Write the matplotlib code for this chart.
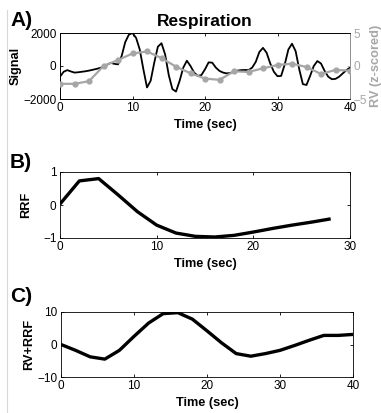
import numpy as np
import matplotlib
matplotlib.use("Agg")
import matplotlib.pyplot as plt
from matplotlib.lines import Line2D

plt.rcParams['font.family'] = ['Liberation Sans', 'DejaVu Sans']

# Panel A: raw respiration signal (0.5 s samples)
sig_t = np.arange(0, 40.5, 0.5)
sig_v = [-650, -350, -250, -330, -400, -380, -350, -320, -280, -230,
         -180, -120, -50, 80, 190, 130, 100, 600, 1450, 1900,
         2000, 1700, 1000, -200, -1300, -900, 200, 1170, 1380, 700,
         -550, -1400, -1550, -900, -100, 320, 0, -400, -600, -550,
         -200, 220, 200, -100, -300, -400, -450, -420, -350, -280,
         -250, -240, -250, -100, 250, 850, 1100, 800, 150, -350,
         -620, -600, 100, 1000, 1350, 900, -200, -1100, -1150, -600,
         0, 300, 150, -300, -650, -800, -780, -650, -450, -250,
         -100]

# Respiration volume (z-scored), every 2 s
rv_t = np.arange(0, 41, 2)
rv_v = [-2.7, -2.7, -2.3, 0.0, 0.9, 1.9, 2.2, 1.2, -0.1, -1.1,
        -1.9, -2.1, -0.8, -0.9, -0.35, 0.15, 0.35, -0.15, -1.2, -0.6,
        -0.7]

# Panel B: respiration response function
rrf_t = np.arange(0, 29, 2)
rrf_v = [0.03, 0.73, 0.8, 0.31, -0.2, -0.61, -0.85, -0.95, -0.97, -0.92,
         -0.82, -0.71, -0.61, -0.52, -0.42]

# Panel C: RV convolved with RRF
conv_t = np.arange(0, 41, 2)
conv_v = [0.0, -1.8, -3.8, -4.5, -1.8, 2.5, 6.6, 9.5, 9.8, 7.8,
          4.2, 0.5, -2.8, -3.6, -2.8, -1.8, -0.3, 1.3, 2.8, 2.8,
          3.1]

W, H = 381, 413
fig = plt.figure(figsize=(W / 100, H / 100), dpi=100)

GRAY = '#a6a6a6'
TICK_FS = 8.5
LAB_FS = 9.2


def rect(l, t, r, b):
    return [l / W, 1 - b / H, (r - l) / W, (b - t) / H]


def style(ax):
    ax.tick_params(direction='in', length=2.5, width=0.6, labelsize=TICK_FS,
                   top=True, right=True, pad=2.5)
    for s in ax.spines.values():
        s.set_linewidth(0.6)


# --- A ---
axA = fig.add_axes(rect(60, 33, 350, 99))
axA.plot(sig_t, sig_v, color='black', lw=1.3, zorder=3)
axA.set_xlim(0, 40)
axA.set_ylim(-2000, 2000)
axA.set_xticks([0, 10, 20, 30, 40])
axA.set_yticks([-2000, 0, 2000])
style(axA)
axA.tick_params(right=False)
axA.set_xlabel('Time (sec)', fontsize=LAB_FS, fontweight='bold', labelpad=3)
axA.set_ylabel('Signal', fontsize=LAB_FS, fontweight='bold', labelpad=1)
axA.set_title('Respiration', fontsize=12.5, fontweight='bold', pad=5)

axR = axA.twinx()
axR.plot(rv_t, rv_v, color=GRAY, lw=1.6, marker='o', ms=3.5,
         markerfacecolor=GRAY, markeredgecolor=GRAY, zorder=4)
axR.set_ylim(-5, 5)
axR.set_yticks([-5, 0, 5])
axR.tick_params(direction='in', length=2.5, width=0.6, labelsize=TICK_FS,
                colors=GRAY, pad=2.5)
axR.spines['right'].set_color(GRAY)
for s in axR.spines.values():
    s.set_linewidth(0.6)
axR.set_ylabel('RV (z-scored)', fontsize=LAB_FS, fontweight='bold',
               color=GRAY, labelpad=2)

# --- B ---
axB = fig.add_axes(rect(60, 172, 350, 238))
axB.plot(rrf_t, rrf_v, color='black', lw=2.4, solid_capstyle='butt')
axB.set_xlim(0, 30)
axB.set_ylim(-1, 1)
axB.set_xticks([0, 10, 20, 30])
axB.set_yticks([-1, 0, 1])
style(axB)
axB.set_xlabel('Time (sec)', fontsize=LAB_FS, fontweight='bold', labelpad=3)
axB.set_ylabel('RRF', fontsize=LAB_FS, fontweight='bold', labelpad=8)

# --- C ---
axC = fig.add_axes(rect(61, 312, 353, 377))
axC.plot(conv_t, conv_v, color='black', lw=2.4, solid_capstyle='butt')
axC.set_xlim(0, 40)
axC.set_ylim(-10, 10)
axC.set_xticks([0, 10, 20, 30, 40])
axC.set_yticks([-10, 0, 10])
style(axC)
axC.set_xlabel('Time (sec)', fontsize=LAB_FS, fontweight='bold', labelpad=3)
axC.set_ylabel('RV+RRF', fontsize=LAB_FS, fontweight='bold', labelpad=2)

# Panel letters
for lab, y in [('A)', 20), ('B)', 163), ('C)', 297)]:
    fig.text(10 / W, 1 - y / H, lab, fontsize=15, fontweight='bold',
             va='center', ha='left')

# thin frame line at left edge
fig.add_artist(Line2D([7 / W, 7 / W], [0, 1 - 10 / H], color='#d8d8d8',
                      lw=0.8, transform=fig.transFigure))

fig.savefig('out.png', dpi=100)
